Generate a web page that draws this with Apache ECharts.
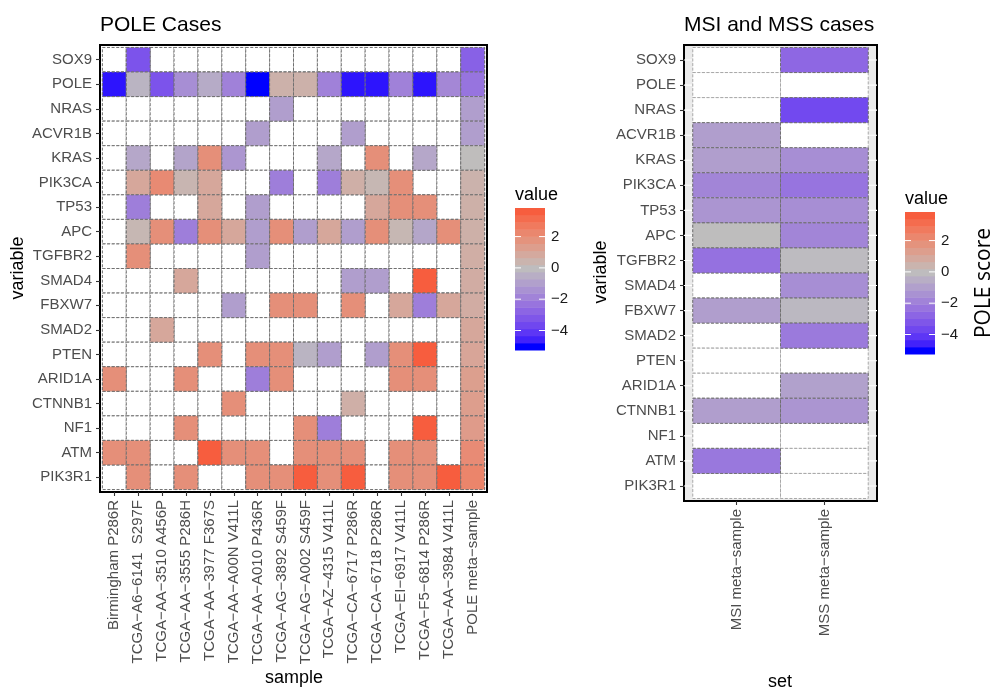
<!DOCTYPE html>
<html>
<head>
<meta charset="utf-8">
<title>POLE score heatmaps</title>
<script src="https://cdn.jsdelivr.net/npm/echarts@6/dist/echarts.min.js"></script>
<style>
  html, body { margin: 0; padding: 0; background: #fff; }
  #chart { width: 993px; height: 689px; }
</style>
</head>
<body>
<div id="chart"></div>
<script>
// ---- data -------------------------------------------------------------
const genes = ['SOX9', 'POLE', 'NRAS', 'ACVR1B', 'KRAS', 'PIK3CA', 'TP53', 'APC', 'TGFBR2',
  'SMAD4', 'FBXW7', 'SMAD2', 'PTEN', 'ARID1A', 'CTNNB1', 'NF1', 'ATM', 'PIK3R1'];

const samples = ['Birmingham P286R', 'TCGA-A6-6141  S297F', 'TCGA-AA-3510 A456P',
  'TCGA-AA-3555 P286H', 'TCGA-AA-3977 F367S', 'TCGA-AA-A00N V411L', 'TCGA-AA-A010 P436R',
  'TCGA-AG-3892 S459F', 'TCGA-AG-A002 S459F', 'TCGA-AZ-4315 V411L', 'TCGA-CA-6717 P286R',
  'TCGA-CA-6718 P286R', 'TCGA-EI-6917 V411L', 'TCGA-F5-6814 P286R', 'TCGA-AA-3984 V411L',
  'POLE meta-sample'];

const sets = ['MSI meta-sample', 'MSS meta-sample'];

const _ = null;
// POLE score per gene (rows) and sample (columns); null = no value
const poleCases = [
  /* SOX9   */ [_, -3.3, _, _, _, _, _, _, _, _, _, _, _, _, _, -2.9],
  /* POLE   */ [-4.8, -0.3, -3.3, -1.5, -0.6, -1.9, -5.02, 0.55, 0.55, -1.9, -4.8, -4.8, -1.9, -4.8, -1.7, -2.3],
  /* NRAS   */ [_, _, _, _, _, _, _, -1.0, _, _, _, _, _, _, _, -1.0],
  /* ACVR1B */ [_, _, _, _, _, _, -1.0, _, _, _, -1.0, _, _, _, _, -1.0],
  /* KRAS   */ [_, -0.7, _, -0.8, 1.9, -1.25, _, _, _, -0.7, _, 1.9, _, -0.7, _, 0.05],
  /* PIK3CA */ [_, 0.95, 2.1, 0.35, 0.95, _, _, -2.0, _, -2.0, 0.65, 0.3, 1.9, _, _, 0.5],
  /* TP53   */ [_, -2.0, _, _, 0.95, _, -1.0, _, _, _, _, 0.95, 1.9, 1.9, _, 0.6],
  /* APC    */ [_, 0.3, 1.9, -2.0, 1.9, 0.95, -1.0, 1.9, -1.0, 0.95, -1.0, 1.9, 0.3, -0.75, 1.9, 0.6],
  /* TGFBR2 */ [_, 1.9, _, _, _, _, -1.0, _, _, _, _, _, _, _, _, 0.7],
  /* SMAD4  */ [_, _, _, 0.95, _, _, _, _, _, _, -1.0, -1.0, _, 3.6, _, 0.75],
  /* FBXW7  */ [_, _, _, _, _, -1.0, _, 1.9, 1.9, _, 1.9, _, 0.95, -2.0, 0.95, 0.75],
  /* SMAD2  */ [_, _, 0.95, _, _, _, _, _, _, _, _, _, _, _, _, 0.95],
  /* PTEN   */ [_, _, _, _, 1.9, _, 1.9, 1.9, -0.3, -1.0, _, -1.0, 1.9, 3.6, _, 1.05],
  /* ARID1A */ [1.9, _, _, 1.9, _, _, -2.0, 1.9, _, _, _, _, 1.9, 1.9, _, 1.3],
  /* CTNNB1 */ [_, _, _, _, _, 1.9, _, _, _, _, 0.65, _, _, _, _, 1.35],
  /* NF1    */ [_, _, _, 1.9, _, _, _, _, 1.9, -2.0, _, _, _, 3.6, _, 1.45],
  /* ATM    */ [1.9, 1.9, _, _, 3.6, 1.9, 1.9, _, 1.9, 1.9, 1.9, _, 1.9, 1.9, _, 2.05],
  /* PIK3R1 */ [_, 1.9, _, 1.9, _, _, 1.9, 1.9, 3.6, 1.9, 3.6, _, 1.9, 1.9, 3.6, 2.3]
];

// meta-sample scores, one per gene
const msiScores = [_, _, _, -1.0, -1.0, -1.8, -1.3, 0.0, -2.4, _, -1.0, _, _, _, -1.0, _, -2.2, _];
const mssScores = [-2.7, _, -3.6, _, -1.5, -2.3, -1.5, -1.8, -0.1, -1.5, -0.2, -2.1, _, -0.9, -1.3, _, _, _];

// colour scale limits and legend breaks
const scoreMin = -5.02;
const scoreMax = 3.60;
const legendBreaks = [-4, -2, 0, 2];

// ---- diverging colour scale (blue / grey / red, interpolated in CIE Lab) ----
const WHITE = [0.95047, 1.0, 1.08883];
function toLin(c) { c /= 255; return c <= 0.04045 ? c / 12.92 : Math.pow((c + 0.055) / 1.055, 2.4); }
function toSrgb(c) {
  c = c <= 0.0031308 ? 12.92 * c : 1.055 * Math.pow(c, 1 / 2.4) - 0.055;
  return Math.round(Math.max(0, Math.min(1, c)) * 255);
}
function hexToLab(hex) {
  const r = toLin(parseInt(hex.slice(1, 3), 16));
  const g = toLin(parseInt(hex.slice(3, 5), 16));
  const b = toLin(parseInt(hex.slice(5, 7), 16));
  const X = (0.4124564 * r + 0.3575761 * g + 0.1804375 * b) / WHITE[0];
  const Y = (0.2126729 * r + 0.7151522 * g + 0.0721750 * b) / WHITE[1];
  const Z = (0.0193339 * r + 0.1191920 * g + 0.9503041 * b) / WHITE[2];
  const f = t => t > 0.008856 ? Math.cbrt(t) : 7.787 * t + 16 / 116;
  const fx = f(X), fy = f(Y), fz = f(Z);
  return [116 * fy - 16, 500 * (fx - fy), 200 * (fy - fz)];
}
function labToHex(L, a, b) {
  const fy = (L + 16) / 116, fx = fy + a / 500, fz = fy - b / 200;
  const inv = t => (t * t * t > 0.008856 ? t * t * t : (t - 16 / 116) / 7.787);
  const X = inv(fx) * WHITE[0], Y = inv(fy) * WHITE[1], Z = inv(fz) * WHITE[2];
  const r = 3.2404542 * X - 1.5371385 * Y - 0.4985314 * Z;
  const g = -0.9692660 * X + 1.8760108 * Y + 0.0415560 * Z;
  const bb = 0.0556434 * X - 0.2040259 * Y + 1.0572252 * Z;
  return '#' + [r, g, bb].map(c => toSrgb(c).toString(16).padStart(2, '0')).join('');
}
const LOW = hexToLab('#0000FF'), MID = hexToLab('#BEBEBE'), HIGH = hexToLab('#FF0000');
const maxAbs = Math.max(Math.abs(scoreMin), Math.abs(scoreMax));
function scoreColor(v) {
  const t = v / (2 * maxAbs) + 0.5;
  const [p, q, s] = t < 0.5 ? [LOW, MID, t / 0.5] : [MID, HIGH, (t - 0.5) / 0.5];
  return labToHex(p[0] + (q[0] - p[0]) * s, p[1] + (q[1] - p[1]) * s, p[2] + (q[2] - p[2]) * s);
}
const colorStops = [];
for (let i = 0; i <= 80; i++) colorStops.push(scoreColor(scoreMin + (scoreMax - scoreMin) * i / 80));

// legend: 20 bins across the data range, as a ggplot colourbar
const NBIN = 20;
const binStep = (scoreMax - scoreMin) / (NBIN - 1);
const legendBins = [];
for (let i = 0; i < NBIN; i++) { const v = scoreMin + i * binStep; legendBins.push([0, v, v]); }
const legendLo = scoreMin - binStep / 2, legendHi = scoreMax + binStep / 2;

// ---- build series data from the arrays ----
const leftAll = [], leftVals = [];
genes.forEach((g, gi) => samples.forEach((s, si) => {
  leftAll.push([si + 1, gi + 1]);
  const v = poleCases[gi][si];
  if (v !== null) leftVals.push([si + 1, gi + 1, v]);
}));
const rightAll = [], rightVals = [];
[msiScores, mssScores].forEach((col, ci) => col.forEach((v, gi) => {
  rightAll.push([ci + 1, gi + 1]);
  if (v !== null) rightVals.push([ci + 1, gi + 1, v]);
}));

// ---- rendering helpers ----
const FONT = '"Liberation Sans", Arial, Helvetica, sans-serif';
const TICK_FONT = 15;
const disp = s => s.replace(/-/g, '\u2212');
const seq = n => Array.from({ length: n }, (_, i) => i + 1);

function tileRenderer(fixedFill, stroke) {
  return function (params, api) {
    const x = api.value(0), y = api.value(1);
    const a = api.coord([x - 0.5, y - 0.5]);
    const b = api.coord([x + 0.5, y + 0.5]);
    return {
      type: 'rect',
      shape: { x: Math.min(a[0], b[0]), y: Math.min(a[1], b[1]), width: Math.abs(b[0] - a[0]), height: Math.abs(b[1] - a[1]) },
      style: { fill: fixedFill || api.visual('color'), stroke: stroke, lineWidth: 1, lineDash: [3, 1.6] }
    };
  };
}
function legendBinRenderer(params, api) {
  const v = api.value(1);
  const a = api.coord([0, v - binStep / 2]);
  const b = api.coord([1, v + binStep / 2]);
  return {
    type: 'rect',
    shape: { x: a[0], y: Math.min(a[1], b[1]), width: b[0] - a[0], height: Math.abs(b[1] - a[1]) + 0.5 },
    style: { fill: api.visual('color') }
  };
}
function legendTickRenderer(params, api) {
  const y = api.coord([0, api.value(1)])[1];
  const x0 = api.coord([0, 0])[0], x1 = api.coord([1, 0])[0];
  const w = (x1 - x0) / 5;
  const st = { stroke: '#FFFFFF', lineWidth: 1 };
  return {
    type: 'group',
    children: [
      { type: 'line', shape: { x1: x0, y1: y, x2: x0 + w, y2: y }, style: st },
      { type: 'line', shape: { x1: x1 - w, y1: y, x2: x1, y2: y }, style: st }
    ]
  };
}
function gridLineRenderer(params, api) {
  const y = api.value(1);
  const a = api.coord([0.4, y]), b = api.coord([sets.length + 0.6, y]);
  return { type: 'line', shape: { x1: a[0], y1: a[1], x2: b[0], y2: b[1] }, style: { stroke: '#FFFFFF', lineWidth: 1.1 } };
}

function catXAxis(grid, names) {
  const ticks = seq(names.length);
  return {
    gridIndex: grid, type: 'value', min: 0.4, max: names.length + 0.6,
    axisLine: { show: false }, splitLine: { show: false },
    axisTick: { show: true, customValues: ticks, length: 4, lineStyle: { color: '#333333', width: 1.1 } },
    axisLabel: { customValues: ticks, formatter: v => disp(names[Math.round(v) - 1]), rotate: 90,
      margin: 8, fontSize: TICK_FONT, color: '#4D4D4D', fontFamily: FONT }
  };
}
function catYAxis(grid) {
  const ticks = seq(genes.length);
  return {
    gridIndex: grid, type: 'value', min: 0.4, max: genes.length + 0.6, inverse: true,
    axisLine: { show: false }, splitLine: { show: false },
    axisTick: { show: true, customValues: ticks, length: 4, lineStyle: { color: '#333333', width: 1.1 } },
    axisLabel: { customValues: ticks, formatter: v => genes[Math.round(v) - 1],
      margin: 8, fontSize: TICK_FONT, color: '#4D4D4D', fontFamily: FONT }
  };
}
function legendYAxis(grid) {
  return {
    gridIndex: grid, type: 'value', min: legendLo, max: legendHi, position: 'right',
    axisLine: { show: false }, splitLine: { show: false },
    axisTick: { show: false, customValues: legendBreaks },
    axisLabel: { customValues: legendBreaks, formatter: v => disp(String(Math.round(v))),
      margin: 6, fontSize: TICK_FONT, color: '#1A1A1A', fontFamily: FONT }
  };
}
const hiddenX = grid => ({ gridIndex: grid, type: 'value', min: 0, max: 1, show: false });

function label(text, x, y, size, opts) {
  return Object.assign({
    type: 'text', x: x, y: y, silent: true,
    style: { text: text, fontSize: size, fontFamily: FONT, fill: '#000', textAlign: 'center', textVerticalAlign: 'middle' }
  }, opts || {});
}
function leftLabel(text, x, y, size) {
  return {
    type: 'text', x: x, y: y, silent: true,
    style: { text: text, fontSize: size, fontFamily: FONT, fill: '#000', textAlign: 'left', textVerticalAlign: 'middle' }
  };
}

const option = {
  backgroundColor: '#FFFFFF',
  animation: false,
  grid: [
    { left: 100, top: 45, width: 387, height: 447, show: true, backgroundColor: '#FFFFFF', borderColor: '#000', borderWidth: 2 },
    { left: 684, top: 45, width: 193, height: 456, show: true, backgroundColor: '#EBEBEB', borderColor: '#000', borderWidth: 2 },
    { left: 515, top: 208, width: 30, height: 142 },
    { left: 905, top: 212, width: 30, height: 142 }
  ],
  xAxis: [catXAxis(0, samples), catXAxis(1, sets), hiddenX(2), hiddenX(3)],
  yAxis: [catYAxis(0), catYAxis(1), legendYAxis(2), legendYAxis(3)],
  visualMap: {
    type: 'continuous', show: false, min: scoreMin, max: scoreMax, dimension: 2,
    seriesIndex: [1, 4, 5, 7], inRange: { color: colorStops }
  },
  series: [
    { type: 'custom', xAxisIndex: 0, yAxisIndex: 0, silent: true, clip: false, data: leftAll, renderItem: tileRenderer('#FFFFFF', '#707070') },
    { type: 'custom', xAxisIndex: 0, yAxisIndex: 0, silent: true, clip: false, data: leftVals, renderItem: tileRenderer(null, '#707070') },
    { type: 'custom', xAxisIndex: 1, yAxisIndex: 1, silent: true, clip: false, data: genes.map((g, i) => [1, i + 1]), renderItem: gridLineRenderer },
    { type: 'custom', xAxisIndex: 1, yAxisIndex: 1, silent: true, clip: false, data: rightAll, renderItem: tileRenderer('#FFFFFF', '#A8A8A8') },
    { type: 'custom', xAxisIndex: 1, yAxisIndex: 1, silent: true, clip: false, data: rightVals, renderItem: tileRenderer(null, '#707070') },
    { type: 'custom', xAxisIndex: 2, yAxisIndex: 2, silent: true, data: legendBins, renderItem: legendBinRenderer },
    { type: 'custom', xAxisIndex: 2, yAxisIndex: 2, silent: true, z: 3, data: legendBreaks.map(v => [0, v]), renderItem: legendTickRenderer },
    { type: 'custom', xAxisIndex: 3, yAxisIndex: 3, silent: true, data: legendBins, renderItem: legendBinRenderer },
    { type: 'custom', xAxisIndex: 3, yAxisIndex: 3, silent: true, z: 3, data: legendBreaks.map(v => [0, v]), renderItem: legendTickRenderer }
  ],
  graphic: [
    leftLabel('POLE Cases', 100, 25, 21),
    leftLabel('MSI and MSS cases', 684, 25, 21),
    label('variable', 18, 268, 18, { rotation: Math.PI / 2 }),
    label('variable', 601, 272, 18, { rotation: Math.PI / 2 }),
    label('sample', 294, 678, 18),
    label('set', 780, 682, 18),
    leftLabel('value', 515, 195, 18),
    leftLabel('value', 905, 199, 18),
    label('POLE score', 984, 283, 21, { rotation: Math.PI / 2, style: { text: 'POLE score', fontSize: 21, fontFamily: '"Open Sans", "DejaVu Sans", sans-serif', fill: '#000', textAlign: 'center', textVerticalAlign: 'middle' } })
  ]
};

const chart = echarts.init(document.getElementById('chart'), null, { renderer: 'canvas' });
chart.setOption(option);
</script>
</body>
</html>
